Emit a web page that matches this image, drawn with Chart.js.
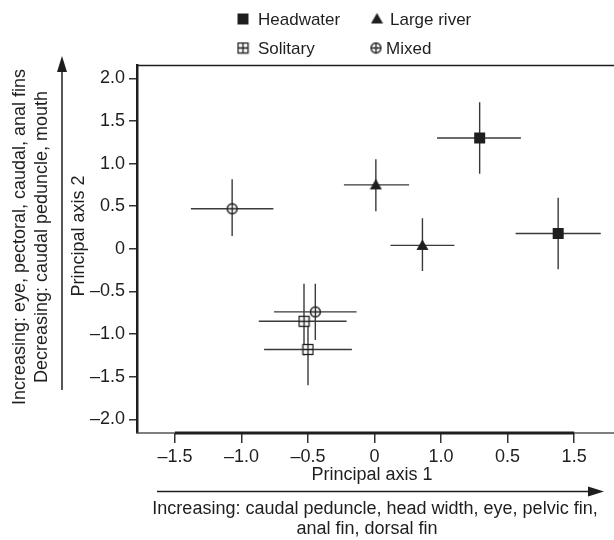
<!DOCTYPE html>
<html><head><meta charset="utf-8">
<script src="https://cdn.jsdelivr.net/npm/chart.js@4/dist/chart.umd.min.js"></script>
<style>html,body{margin:0;padding:0;background:#fff}#wrap{width:614px;height:540px}</style>
</head><body><div id="wrap"><canvas id="c" width="614" height="540"></canvas></div>
<script>
// ---- data ----
const seriesNames = ["Headwater", "Large river", "Solitary", "Mixed"];
const headwaterX = [0.79, 1.38];
const headwaterY = [1.30, 0.18];
const headwaterXLo = [0.47, 1.06], headwaterXHi = [1.10, 1.70];
const headwaterYLo = [0.88, -0.24], headwaterYHi = [1.72, 0.60];
const largeRiverX = [0.01, 0.36];
const largeRiverY = [0.75, 0.04];
const largeRiverXLo = [-0.23, 0.12], largeRiverXHi = [0.26, 0.60];
const largeRiverYLo = [0.44, -0.26], largeRiverYHi = [1.05, 0.36];
const solitaryX = [-0.53, -0.50];
const solitaryY = [-0.85, -1.18];
const solitaryXLo = [-0.87, -0.83], solitaryXHi = [-0.21, -0.17];
const solitaryYLo = [-1.25, -1.60], solitaryYHi = [-0.41, -0.86];
const mixedX = [-1.07, -0.445];
const mixedY = [0.47, -0.74];
const mixedXLo = [-1.38, -0.755], mixedXHi = [-0.76, -0.135];
const mixedYLo = [0.15, -1.07], mixedYHi = [0.815, -0.41];
const xTickValues = [-1.5, -1.0, -0.5, 0, 0.5, 1.0, 1.5];
const xTickLabels = ["\u20131.5", "\u20131.0", "\u20130.5", "0", "1.0", "0.5", "1.5"];
const yTickValues = [2.0, 1.5, 1.0, 0.5, 0, -0.5, -1.0, -1.5, -2.0];
const yTickLabels = ["2.0", "1.5", "1.0", "0.5", "0", "\u20130.5", "\u20131.0", "\u20131.5", "\u20132.0"];
const xTitle = "Principal axis 1";
const yTitle = "Principal axis 2";
const xNote = ["Increasing: caudal peduncle, head width, eye, pelvic fin,", "anal fin, dorsal fin"];
const yNote = ["Increasing: eye, pectoral, caudal, anal fins", "Decreasing: caudal peduncle, mouth"];

const FONT = '"Liberation Sans", Arial, Helvetica, sans-serif';
const INK = '#1e1e1e';

function mk(size, draw) {
  const c = document.createElement('canvas');
  c.width = size; c.height = size;
  const g = c.getContext('2d');
  draw(g, size);
  return c;
}
const S = 13;
const imgSquare = mk(S, (g) => { g.fillStyle = INK; g.fillRect(1, 1, 11, 11); });
const imgTri = mk(S, (g) => { g.fillStyle = INK; g.beginPath(); g.moveTo(6.5, 0.5); g.lineTo(12.5, 11); g.lineTo(0.5, 11); g.closePath(); g.fill(); });
const imgBoxPlus = mk(S, (g) => {
  g.fillStyle = '#fff'; g.fillRect(1, 1, 11, 11);
  g.strokeStyle = INK; g.lineWidth = 1.3;
  g.strokeRect(1.5, 1.5, 10, 10);
  g.beginPath(); g.moveTo(6.5, 1.5); g.lineTo(6.5, 11.5); g.moveTo(1.5, 6.5); g.lineTo(11.5, 6.5); g.stroke();
});
const imgCirclePlus = mk(S, (g) => {
  g.fillStyle = '#fff'; g.beginPath(); g.arc(6.5, 6.5, 5, 0, Math.PI * 2); g.fill();
  g.strokeStyle = INK; g.lineWidth = 1.3;
  g.beginPath(); g.arc(6.5, 6.5, 5, 0, Math.PI * 2); g.stroke();
  g.beginPath(); g.moveTo(6.5, 1.5); g.lineTo(6.5, 11.5); g.moveTo(1.5, 6.5); g.lineTo(11.5, 6.5); g.stroke();
});

function pts(xs, ys) { return xs.map((x, i) => ({ x: x, y: ys[i] })); }
const errs = [
  { xLo: headwaterXLo, xHi: headwaterXHi, yLo: headwaterYLo, yHi: headwaterYHi },
  { xLo: largeRiverXLo, xHi: largeRiverXHi, yLo: largeRiverYLo, yHi: largeRiverYHi },
  { xLo: solitaryXLo, xHi: solitaryXHi, yLo: solitaryYLo, yHi: solitaryYHi },
  { xLo: mixedXLo, xHi: mixedXHi, yLo: mixedYLo, yHi: mixedYHi }
];
const icons = [imgSquare, imgTri, imgBoxPlus, imgCirclePlus];

const errorBars = {
  id: 'errorBars',
  beforeDatasetsDraw(chart) {
    const { ctx, scales: { x, y } } = chart;
    ctx.save();
    ctx.strokeStyle = '#3a3a3a';
    ctx.lineWidth = 1.4;
    chart.data.datasets.forEach((ds, di) => {
      const e = errs[di];
      ds.data.forEach((p, i) => {
        const px = x.getPixelForValue(p.x), py = y.getPixelForValue(p.y);
        ctx.beginPath();
        ctx.moveTo(x.getPixelForValue(e.xLo[i]), py);
        ctx.lineTo(x.getPixelForValue(e.xHi[i]), py);
        ctx.moveTo(px, y.getPixelForValue(e.yLo[i]));
        ctx.lineTo(px, y.getPixelForValue(e.yHi[i]));
        ctx.stroke();
      });
    });
    ctx.restore();
  }
};

const decor = {
  id: 'decor',
  afterDraw(chart) {
    const { ctx, chartArea: a, scales: { x, y } } = chart;
    ctx.save();
    // frame
    ctx.strokeStyle = INK;
    ctx.lineWidth = 1.5;
    ctx.beginPath(); ctx.moveTo(a.left, a.top + 0.5); ctx.lineTo(614, a.top + 0.5); ctx.stroke();
    ctx.strokeStyle = '#555';
    ctx.lineWidth = 1.5;
    ctx.beginPath(); ctx.moveTo(a.left, a.bottom); ctx.lineTo(614, a.bottom); ctx.stroke();
    ctx.strokeStyle = INK;
    ctx.lineWidth = 3;
    ctx.beginPath(); ctx.moveTo(x.getPixelForValue(xTickValues[0]), a.bottom); ctx.lineTo(x.getPixelForValue(xTickValues[xTickValues.length - 1]), a.bottom); ctx.stroke();

    ctx.fillStyle = INK;
    ctx.textAlign = 'center';
    ctx.textBaseline = 'middle';
    // x title and note
    ctx.font = '18px ' + FONT;
    ctx.fillText(xTitle, 372, 475);
    ctx.fillText(xNote[0], 375, 509);
    ctx.fillText(xNote[1], 367, 529);
    // bottom arrow
    ctx.strokeStyle = INK; ctx.lineWidth = 1.5;
    ctx.beginPath(); ctx.moveTo(157, 491.5); ctx.lineTo(592, 491.5); ctx.stroke();
    ctx.beginPath(); ctx.moveTo(604, 491.5); ctx.lineTo(588, 486.5); ctx.lineTo(588, 496.5); ctx.closePath(); ctx.fill();
    // left arrow
    ctx.beginPath(); ctx.moveTo(62, 390); ctx.lineTo(62, 68); ctx.stroke();
    ctx.beginPath(); ctx.moveTo(62, 56); ctx.lineTo(57, 72); ctx.lineTo(67, 72); ctx.closePath(); ctx.fill();
    // rotated texts
    function vtext(t, cx, cy) {
      ctx.save(); ctx.translate(cx, cy); ctx.rotate(-Math.PI / 2); ctx.fillText(t, 0, 0); ctx.restore();
    }
    vtext(yTitle, 79, 236);
    vtext(yNote[0], 20, 237);
    vtext(yNote[1], 42, 237);
    // legend
    ctx.font = '17px ' + FONT;
    ctx.textAlign = 'left';
    const leg = [[243, 19], [377, 19], [243, 48], [376, 48]];
    const legTx = [258, 390, 258, 386];
    leg.forEach((p, i) => {
      ctx.drawImage(icons[i], p[0] - 6.5, p[1] - 6.5);
      ctx.fillText(seriesNames[i], legTx[i], p[1] + 1);
    });
    ctx.restore();
  }
};

new Chart(document.getElementById('c'), {
  type: 'scatter',
  data: {
    datasets: [
      { label: seriesNames[0], data: pts(headwaterX, headwaterY), pointStyle: imgSquare },
      { label: seriesNames[1], data: pts(largeRiverX, largeRiverY), pointStyle: imgTri },
      { label: seriesNames[2], data: pts(solitaryX, solitaryY), pointStyle: imgBoxPlus },
      { label: seriesNames[3], data: pts(mixedX, mixedY), pointStyle: imgCirclePlus }
    ]
  },
  options: {
    responsive: false,
    animation: false,
    devicePixelRatio: 1,
    layout: { padding: { left: 0, top: 65, right: 0, bottom: 0 } },
    plugins: { legend: { display: false }, tooltip: { enabled: false } },
    scales: {
      x: {
        type: 'linear', min: -1.785, max: 1.762,
        afterBuildTicks(s) { s.ticks = xTickValues.map(v => ({ value: v })); },
        afterFit(s) { s.height = 107; },
        ticks: { callback: (v, i) => xTickLabels[i], color: INK, font: { size: 18, family: FONT }, maxRotation: 0, autoSkip: false, padding: 3 },
        grid: { drawOnChartArea: false, drawTicks: true, tickLength: 10, color: '#333', lineWidth: 1.5 },
        border: { display: false }
      },
      y: {
        type: 'linear', min: -2.16, max: 2.156,
        afterBuildTicks(s) { s.ticks = yTickValues.map(v => ({ value: v })); },
        afterFit(s) { s.width = 137; },
        ticks: { callback: (v, i) => yTickLabels[i], color: INK, font: { size: 18, family: FONT }, padding: 4 },
        grid: { drawOnChartArea: false, drawTicks: true, tickLength: 8, color: '#333', lineWidth: 1.5 },
        border: { display: true, width: 2.5, color: INK }
      }
    }
  },
  plugins: [errorBars, decor]
});
</script></body></html>
